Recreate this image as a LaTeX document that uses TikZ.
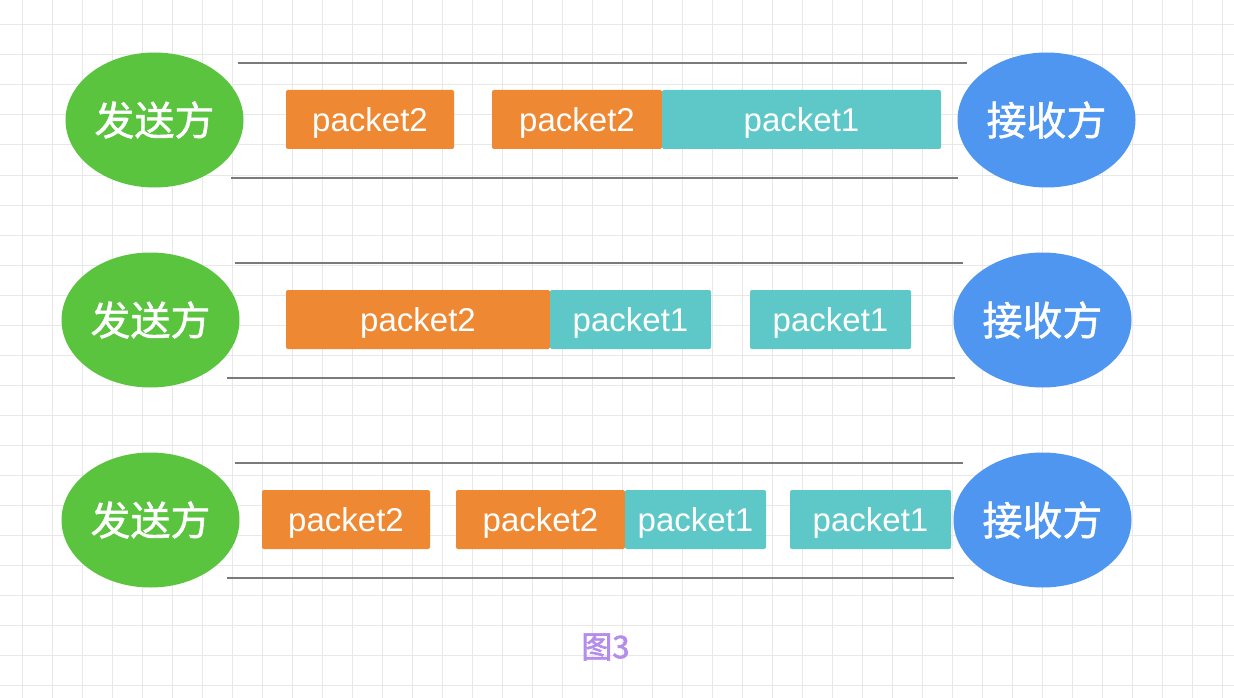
\documentclass[tikz,border=0pt]{standalone}
\usepackage{fontspec}
\setmainfont{Liberation Sans}
\newfontfamily\cjk[FakeBold=1.2]{Noto Sans CJK SC}
\newfontfamily\cjkcap[FakeBold=2]{Noto Sans CJK SC}
\usetikzlibrary{shapes.geometric}
\definecolor{sgreen}{HTML}{5AC43F}
\definecolor{rblue}{HTML}{4F96F0}
\definecolor{porange}{HTML}{EE8833}
\definecolor{pteal}{HTML}{5EC8C8}
\definecolor{wireg}{HTML}{7A7A7A}
\definecolor{gridc}{HTML}{E8E8E8}
\definecolor{capc}{HTML}{B48CEC}
\tikzset{
  party/.style={ellipse, inner sep=0pt, minimum width=178pt, minimum height=135pt,
    text=white, font=\cjk\fontsize{40}{40}\selectfont},
  sender/.style={party, fill=sgreen},
  receiver/.style={party, fill=rblue},
  pkt/.style={rectangle, rounded corners=2pt, inner sep=0pt, minimum height=59pt,
    text=white, font=\fontsize{33}{33}\selectfont, text height=24pt, text depth=0pt},
  pkta/.style={pkt, fill=porange},
  pktb/.style={pkt, fill=pteal},
  wire/.style={draw=wireg, line width=2pt},
}
\begin{document}
\begin{tikzpicture}[x=1pt,y=-1pt]
\useasboundingbox (0,0) rectangle (1234,698);
\fill[white] (0,0) rectangle (1234,698);
% grid
\foreach \gx in {22,52,...,1222} \draw[gridc, line width=1pt] (\gx,0) -- (\gx,698);
\foreach \gy in {25,55,...,685} \draw[gridc, line width=1pt] (0,\gy) -- (1234,\gy);

% ---------- row 1 ----------
\coordinate (t1a) at (238,63); \coordinate (t1b) at (967,63);
\coordinate (b1a) at (231,178); \coordinate (b1b) at (958,178);
\draw[wire] (t1a) -- (t1b);
\draw[wire] (b1a) -- (b1b);
\node[sender] (s1) at (154.5,120) {发送方};
\node[receiver] (r1) at (1046.5,120) {接收方};
\node[pkta, minimum width=168pt] (p1a) at (370,119.5) {packet2};
\node[pkta, minimum width=170pt] (p1b) at (577,119.5) {packet2};
\node[pktb, minimum width=279pt] (p1c) at (801.5,119.5) {packet1};

% ---------- row 2 ----------
\coordinate (t2a) at (235,263); \coordinate (t2b) at (963,263);
\coordinate (b2a) at (227,378); \coordinate (b2b) at (955,378);
\draw[wire] (t2a) -- (t2b);
\draw[wire] (b2a) -- (b2b);
\node[sender] (s2) at (150.5,320) {发送方};
\node[receiver] (r2) at (1042.5,320) {接收方};
\node[pkta, minimum width=264pt] (p2a) at (418,319.5) {packet2};
\node[pktb, minimum width=161pt] (p2b) at (630.5,319.5) {packet1};
\node[pktb, minimum width=161pt] (p2c) at (830.5,319.5) {packet1};

% ---------- row 3 ----------
\coordinate (t3a) at (235,463); \coordinate (t3b) at (963,463);
\coordinate (b3a) at (227,578); \coordinate (b3b) at (954,578);
\draw[wire] (t3a) -- (t3b);
\draw[wire] (b3a) -- (b3b);
\node[sender] (s3) at (150.5,520) {发送方};
\node[receiver] (r3) at (1042.5,520) {接收方};
\node[pkta, minimum width=168pt] (p3a) at (346,519.5) {packet2};
\node[pkta, minimum width=169pt] (p3b) at (540.5,519.5) {packet2};
\node[pktb, minimum width=141pt] (p3c) at (695.5,519.5) {packet1};
\node[pktb, minimum width=161pt] (p3d) at (870.5,519.5) {packet1};

% caption
\node[text=capc, inner sep=0pt, font=\cjkcap\fontsize{31}{31}\selectfont] (cap) at (605.5,647) {图3};
\end{tikzpicture}
\end{document}
